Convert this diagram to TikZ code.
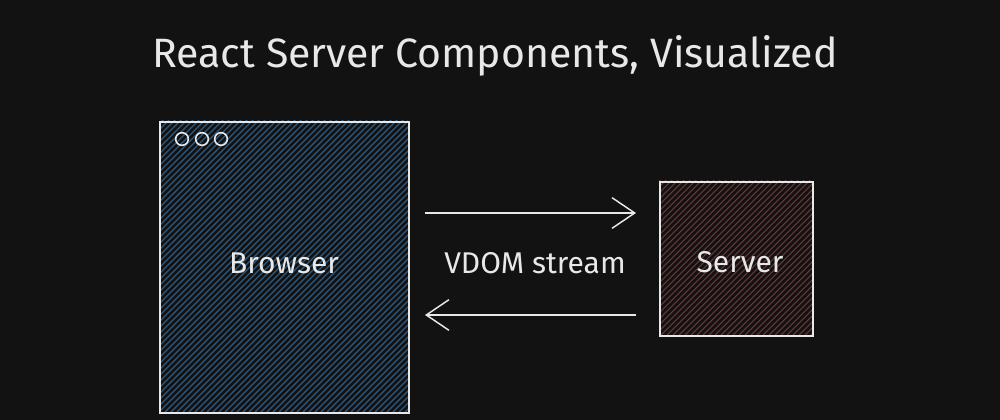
\documentclass[tikz,border=0pt]{standalone}
\usepackage{fontspec}
\setmainfont{Fira Sans}
\usetikzlibrary{arrows.meta}
\definecolor{bg}{HTML}{121212}
\definecolor{ink}{HTML}{E8E8E8}
\definecolor{bluehatch}{HTML}{2F5A80}
\definecolor{redhatch}{HTML}{6E3636}
\tikzset{
  boxline/.style={draw=ink, line width=1.3pt},
  hatchline/.style={line width=0.8pt},
  label/.style={text=ink, font=\fontsize{22.5}{25}\selectfont\mdseries, inner sep=0pt},
  flow/.style={draw=ink, line width=1.1pt, -{Straight Barb[length=17pt,width=23pt,line width=1.1pt]}},
  dot/.style={draw=ink, line width=1.2pt, circle, minimum size=9.5pt, inner sep=0pt},
}
\begin{document}
\begin{tikzpicture}[x=0.75pt,y=-0.75pt]
\fill[bg] (0,0) rectangle (1000,420);
\useasboundingbox (0,0) rectangle (1000,420);
% title
\node[text=ink, inner sep=0pt] (title) at (495,56) {\resizebox{514pt}{!}{\fontsize{30}{34}\selectfont React Server Components, Visualized}};
% browser hatch
\begin{scope}
\clip (159,121) rectangle (408,412);
\foreach \i in {0,6,...,560} {
  \draw[bluehatch, hatchline] (159+\i-300,412) -- (159+\i,112);
}
\end{scope}
\node[boxline, minimum width=186.75pt, minimum height=218.25pt, anchor=north west, inner sep=0pt] (browser) at (159,121) {};
\node[label] (browsertext) at (284,263) {Browser};
\node[dot] (d1) at (182,139) {};
\node[dot] (d2) at (202,139) {};
\node[dot] (d3) at (221,139) {};
% server hatch
\begin{scope}
\clip (659,181) rectangle (812,335);
\foreach \i in {0,6,...,320} {
  \draw[redhatch, hatchline] (659+\i-160,335) -- (659+\i,175);
}
\end{scope}
\node[boxline, minimum width=114.75pt, minimum height=115.5pt, anchor=north west, inner sep=0pt] (server) at (659,181) {};
\node[label] (servertext) at (740,262) {Server};
% arrows
\coordinate (a1s) at (425,213);
\coordinate (a1e) at (636,213);
\coordinate (a2s) at (636,315);
\coordinate (a2e) at (425,315);
\draw[flow] (a1s) -- (a1e);
\draw[flow] (a2s) -- (a2e);
\node[label] (vdom) at (535,263) {VDOM stream};
\end{tikzpicture}
\end{document}
